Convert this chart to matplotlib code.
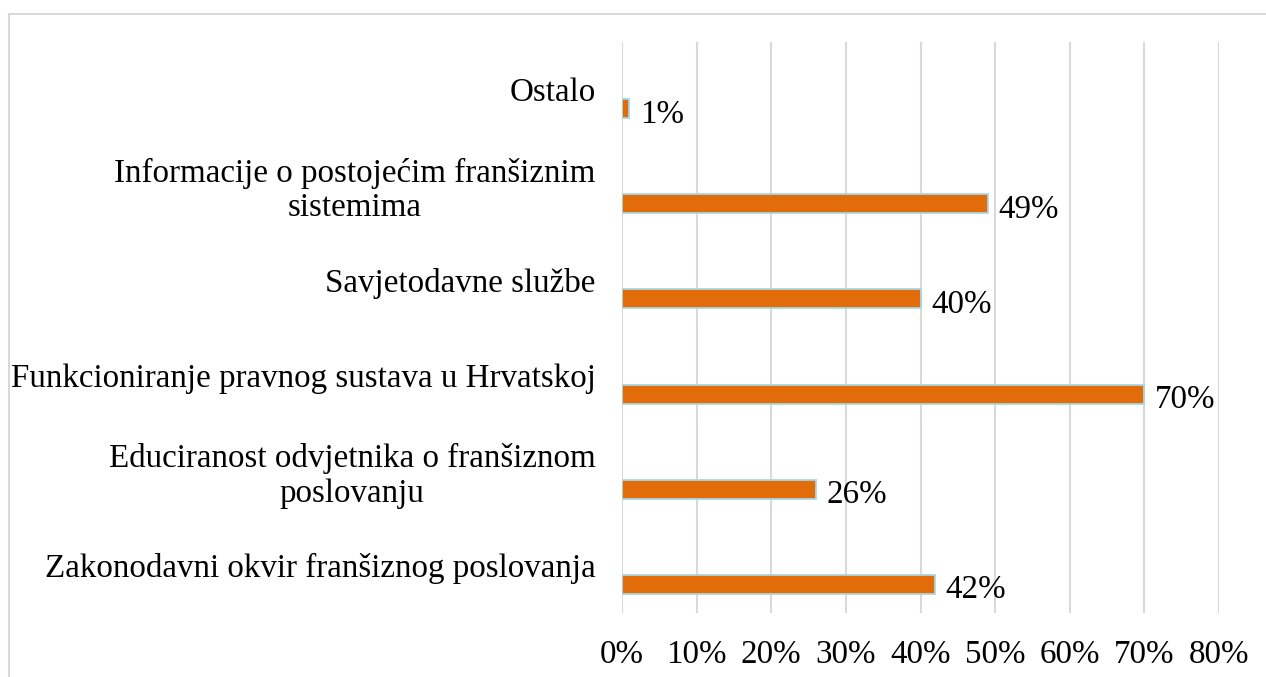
import matplotlib.pyplot as plt
from matplotlib.lines import Line2D
from matplotlib.ticker import PercentFormatter

# Categories from bottom to top
categories = ["Zakonodavni okvir franšiznog poslovanja",
              "Educiranost odvjetnika o franšiznom\nposlovanju",
              "Funkcioniranje pravnog sustava u Hrvatskoj",
              "Savjetodavne službe",
              "Informacije o postojećim franšiznim\nsistemima",
              "Ostalo"]
values = [42, 26, 70, 40, 49, 1]
x_ticks = [0, 10, 20, 30, 40, 50, 60, 70, 80]

plt.rcParams.update({"font.family": "Liberation Serif",
                     "font.size": 23.8})

fig = plt.figure(figsize=(12.66, 6.77), dpi=100)
ax = fig.add_axes([622 / 1266, 1 - 613 / 677, (1219 - 622) / 1266, (613 - 42) / 677])

pos = list(range(len(categories)))
bar_pos = [p - 0.2 for p in pos]
ax.barh(bar_pos, values, height=0.2, color="#e36c0a",
        edgecolor="#a9d6e5", linewidth=1.3, zorder=3)

for y, v in zip(bar_pos, values):
    ax.text(v + 1.4, y - 0.06, f"{v}%", va="center", ha="left")

ax.set_xlim(0, 80)
ax.set_ylim(-0.5, len(categories) - 0.5)
ax.set_xticks(x_ticks)
ax.xaxis.set_major_formatter(PercentFormatter(decimals=0))
ax.set_yticks(pos)
ax.set_yticklabels(categories, ha="right", multialignment="center",
                   linespacing=1.18)
ax.tick_params(axis="y", length=0, pad=19)
ax.tick_params(axis="x", length=0, pad=19)
ax.grid(axis="x", color="#d9d9d9", linewidth=1.5, zorder=0)
for s in ax.spines.values():
    s.set_visible(False)

# chart area border
fig.add_artist(Line2D([8.5 / 1266, 8.5 / 1266], [0, 1 - 13.5 / 677],
                      color="#d9d9d9", linewidth=1.5))
fig.add_artist(Line2D([8.5 / 1266, 1], [1 - 13.5 / 677, 1 - 13.5 / 677],
                      color="#d9d9d9", linewidth=1.5))

fig.savefig("out.png", dpi=100)
